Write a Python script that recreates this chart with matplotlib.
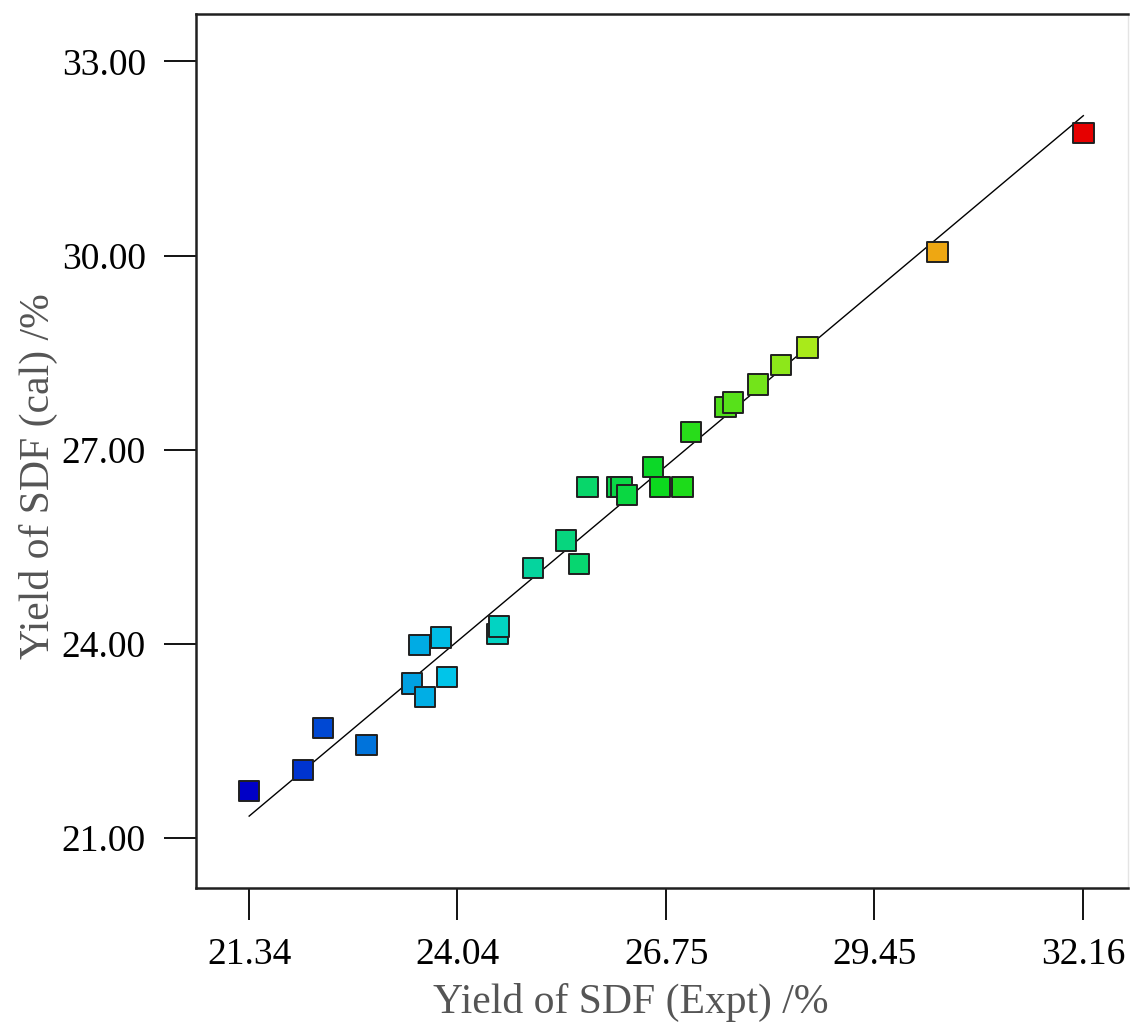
import numpy as np
import matplotlib.pyplot as plt
from matplotlib.colors import LinearSegmentedColormap, Normalize

x_expt = [21.34, 22.04, 22.30, 22.86, 23.45, 23.55, 23.62, 23.83, 23.91, 24.56,
          24.58, 25.02, 25.45, 25.62, 25.73, 26.11, 26.17, 26.24, 26.58, 26.67,
          26.96, 27.07, 27.52, 27.62, 27.94, 28.24, 28.58, 30.27, 32.16]
y_cal = [21.73, 22.05, 22.70, 22.44, 23.39, 23.98, 23.18, 24.10, 23.49, 24.15,
         24.27, 25.17, 25.60, 25.23, 26.42, 26.42, 26.42, 26.30, 26.73, 26.42,
         26.42, 27.27, 27.66, 27.73, 28.01, 28.31, 28.58, 30.05, 31.89]

x_ticks = [21.34, 24.04, 26.75, 29.45, 32.16]
y_ticks = [21.00, 24.00, 27.00, 30.00, 33.00]

plt.rcParams['font.family'] = ['Liberation Serif', 'DejaVu Serif']

# blue -> cyan -> green -> yellow -> red, like Design-Expert
cmap = LinearSegmentedColormap.from_list(
    'de', [(0.0, 0.0, 0.78), (0.0, 0.82, 0.92), (0.05, 0.85, 0.1),
           (0.95, 0.95, 0.1), (0.9, 0.0, 0.0)])
norm = Normalize(vmin=min(x_expt), vmax=max(x_expt))

fig = plt.figure(figsize=(11.32, 10.25), dpi=100)
ax = fig.add_axes([0.1731, 0.1337, 0.8234, 0.8526])

# y = x reference line
ax.plot([x_ticks[0], x_ticks[-1]], [x_ticks[0], x_ticks[-1]],
        color='black', lw=1.0, zorder=2)

ax.scatter(x_expt, y_cal, c=x_expt, cmap=cmap, norm=norm, marker='s',
           s=215, edgecolors='#202020', linewidths=1.4, zorder=3)

ax.set_xlim(20.65, 32.74)
ax.set_ylim(20.23, 33.73)
ax.set_xticks(x_ticks)
ax.set_xticklabels(['%.2f' % v for v in x_ticks])
ax.set_yticks(y_ticks)
ax.set_yticklabels(['%.2f' % v for v in y_ticks])
ax.tick_params(axis='both', labelsize=27, length=23, width=1.3,
               direction='out', pad=13, colors='black')

for side in ['left', 'bottom', 'top']:
    ax.spines[side].set_linewidth(1.8)
    ax.spines[side].set_color('#202020')
ax.spines['right'].set_linewidth(1.0)
ax.spines['right'].set_color('#e4e4e4')

ax.set_xlabel('Yield of SDF (Expt) /%', fontsize=30, color='#555555')
ax.set_ylabel('Yield of SDF (cal) /%', fontsize=30, color='#555555')
ax.xaxis.set_label_coords(0.467, -0.109, transform=ax.transAxes)
ax.yaxis.set_label_coords(-0.148, 0.471, transform=ax.transAxes)

plt.savefig('out.png', dpi=100)
